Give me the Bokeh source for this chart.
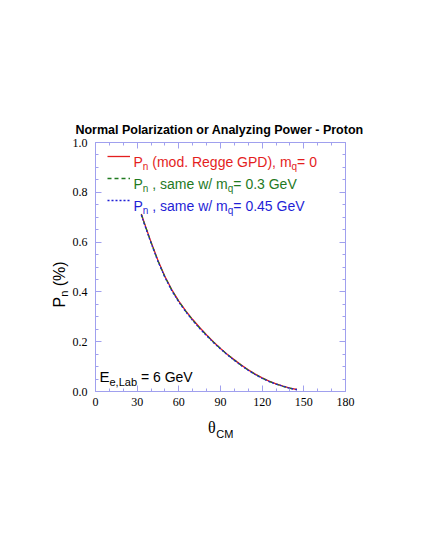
import math
from bokeh.plotting import figure
from bokeh.models import (Range1d, LinearAxis, FixedTicker, PrintfTickFormatter,
                          Label, Legend, LegendItem)
from bokeh.embed import file_html
from bokeh.resources import INLINE

# ---------------- data ----------------
theta = [33, 35, 40, 45, 50, 55, 60, 65, 70, 75, 80, 85, 90, 95, 100, 105, 110,
         115, 120, 125, 130, 135, 140, 145]
pn_m0 = [0.713, 0.680, 0.600, 0.526, 0.462, 0.408, 0.363, 0.324, 0.289, 0.257,
         0.227, 0.199, 0.173, 0.149, 0.127, 0.106, 0.087, 0.070, 0.055, 0.042,
         0.031, 0.022, 0.014, 0.008]
pn_m03 = [0.711, 0.678, 0.598, 0.524, 0.460, 0.406, 0.361, 0.322, 0.287, 0.255,
          0.226, 0.198, 0.172, 0.148, 0.126, 0.105, 0.086, 0.069, 0.054, 0.041,
          0.030, 0.021, 0.013, 0.008]
pn_m045 = [0.709, 0.675, 0.596, 0.522, 0.458, 0.404, 0.359, 0.320, 0.285, 0.253,
           0.224, 0.196, 0.171, 0.147, 0.125, 0.104, 0.085, 0.068, 0.053, 0.040,
           0.030, 0.021, 0.013, 0.007]

x_ticks = [0, 30, 60, 90, 120, 150, 180]
x_minor = [10, 20, 40, 50, 70, 80, 100, 110, 130, 140, 160, 170]
y_ticks = [0.0, 0.2, 0.4, 0.6, 0.8, 1.0]
y_minor = [0.05, 0.1, 0.15, 0.25, 0.3, 0.35, 0.45, 0.5, 0.55, 0.65, 0.7, 0.75,
           0.85, 0.9, 0.95]

title_text = "Normal Polarization or Analyzing Power - Proton"

# ---------------- style ----------------
AX = "#a0a0ee"
RED = "#e41e1e"
GREEN = "#1f7a1f"
BLUE = "#1f1fd6"
NB = "\u00a0"

p = figure(width=409, height=534, x_range=Range1d(0, 180), y_range=Range1d(0, 1),
           output_backend="svg", toolbar_location=None,
           min_border_left=95, min_border_right=64, min_border_top=142,
           min_border_bottom=143)
p.grid.visible = False
p.outline_line_color = AX
p.background_fill_color = "white"
p.border_fill_color = "white"


def style_axis(ax, ticks, minor, labels=True, standoff=6):
    ax.ticker = FixedTicker(ticks=ticks, minor_ticks=minor)
    ax.axis_line_color = AX
    ax.major_tick_line_color = AX
    ax.minor_tick_line_color = AX
    ax.major_tick_in = 6
    ax.major_tick_out = 0
    ax.minor_tick_in = 3
    ax.minor_tick_out = 0
    ax.major_label_text_font = "Liberation Serif"
    ax.major_label_text_font_size = "12px"
    ax.major_label_text_color = "black"
    ax.major_label_standoff = standoff
    if not labels:
        ax.major_label_overrides = {t: "" for t in ticks}


style_axis(p.xaxis[0], x_ticks, x_minor, True, 6)
style_axis(p.yaxis[0], y_ticks, y_minor, True, 8)
p.yaxis[0].formatter = PrintfTickFormatter(format="%.1f")

top = LinearAxis()
style_axis(top, x_ticks, x_minor, False)
p.add_layout(top, "above")
right = LinearAxis()
style_axis(right, y_ticks, y_minor, False)
p.add_layout(right, "right")

# ---------------- curves ----------------
r1 = p.line(theta, pn_m0, line_color=RED, line_width=1.3)
r2 = p.line(theta, pn_m03, line_color=GREEN, line_width=1.3, line_dash="4 3")
r3 = p.line(theta, pn_m045, line_color=BLUE, line_width=1.3, line_dash="2 2")

legend = Legend(items=[LegendItem(label=" ", renderers=[r1]),
                       LegendItem(label=" ", renderers=[r2]),
                       LegendItem(label=" ", renderers=[r3])],
                location=(12, 181), padding=0, margin=0, spacing=2,
                glyph_width=23, glyph_height=20, label_height=20, label_width=0,
                label_standoff=0, label_text_font_size="1px",
                border_line_color=None, background_fill_alpha=0)
p.add_layout(legend)

# ---------------- text helpers ----------------
W = {' ': 278, NB: 278, '(': 333, ')': 333, ',': 278, '-': 333, '.': 278,
     '/': 278, '=': 584, '%': 889, 'A': 667, 'C': 722, 'D': 722, 'E': 667,
     'G': 778, 'L': 556, 'M': 833, 'P': 667, 'R': 722, 'V': 667, 'a': 556,
     'b': 556, 'd': 556, 'e': 556, 'g': 556, 'm': 833, 'n': 556, 'o': 556,
     'q': 556, 's': 500, 'w': 722, 'θ': 520}


def tw(s, size):
    return sum(W.get(c, 556) for c in s) * size / 1000.0


def px2x(px):
    return (px - 95) * 180.0 / 250.0


def px2y(py):
    return (391 - py) / 249.0


def rich(px, py, pieces, color, rotate=False, side=None):
    cur = 0.0
    for piece in pieces:
        text, size, dy = piece[0], piece[1], piece[2]
        font = piece[3] if len(piece) > 3 else "Liberation Sans"
        if rotate:
            lab = Label(x=px2x(px), y=px2y(py), x_offset=dy, y_offset=cur,
                        angle=math.pi / 2, text=text)
        else:
            lab = Label(x=px2x(px), y=px2y(py), x_offset=cur, y_offset=-dy,
                        text=text)
        lab.text_font = font
        lab.text_font_size = f"{size}px"
        lab.text_color = color
        lab.text_baseline = "alphabetic"
        lab.text_align = "left"
        if side is None:
            p.add_layout(lab)
        else:
            p.add_layout(lab, side)
        cur += tw(text, size)


# title (outside the frame -> side panel so it is not clipped)
title = Label(x=px2x(219), y=px2y(129), text=title_text, text_align="center",
              text_baseline="alphabetic", text_font="Liberation Sans",
              text_font_size="12.5px", text_font_style="bold", text_color="black")
p.add_layout(title, "above")

# legend texts
rich(133, 161, [("P", 14, 0), ("n", 10, 5), (NB + "(mod. Regge GPD), m", 14, 0),
                ("q", 10, 5), ("= 0", 14, 0)], RED)
rich(133, 183, [("P", 14, 0), ("n", 10, 5), (NB + ", same w/ m", 14, 0),
                ("q", 10, 5), ("= 0.3 GeV", 14, 0)], GREEN)
rich(133, 205, [("P", 14, 0), ("n", 10, 5), (NB + ", same w/ m", 14, 0),
                ("q", 10, 5), ("= 0.45 GeV", 14, 0)], BLUE)

# energy annotation
rich(99, 376, [("E", 15, 0), ("e,Lab", 11, 5.5), (NB + "= 6 GeV", 14, 0)], "black")

# axis titles
rich(207.5, 427, [("θ", 16, 0, "Liberation Serif"), ("CM", 11, 6)], "black",
     side="below")
rich(59, 307, [("P", 16, 0), ("n", 11, 4), (NB + "(%)", 16, 0)], "black",
     rotate=True, side="below")

open("out.html", "w").write(file_html(p, INLINE))
